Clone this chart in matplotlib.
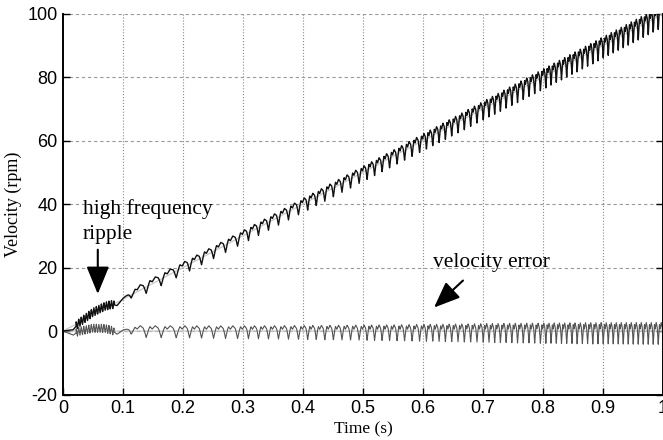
import numpy as np
import matplotlib
matplotlib.use("Agg")
import matplotlib.pyplot as plt

plt.rcParams["axes.unicode_minus"] = False

# reference ramp and zero line (light gray)
ref_t = [0.0, 1.0]
ref_v = [0.0, 100.0]

# slow deviation of the error during start-up
trend_t = [0.0, 0.017, 0.025, 0.05, 0.07, 0.082, 0.09, 0.1, 0.12, 1.0]
trend_e = [0.0, -1.3, -0.2, 0.9, 0.8, 0.2, -1.0, 0.3, 0.2, -0.3]

# high frequency ripple window at start
hf_start, hf_end = 0.022, 0.085
hf_cycles = 15
hf_amp = 1.3

# ripple after 0.1 s: dips per 0.1 s segment and amplitudes
seg_start = [0.1, 0.2, 0.3, 0.4, 0.5, 0.6, 0.7, 0.8, 0.9]
seg_cycles = [4.0, 5.0, 6.0, 7.0, 8.0, 9.5, 10.5, 11.5, 12.0]
seg_up = [1.5, 1.5, 1.6, 1.8, 2.0, 2.3, 2.6, 2.8, 3.0]
seg_down = [2.2, 2.4, 2.6, 2.8, 3.0, 3.3, 3.6, 3.8, 4.0]

# one ripple period: rise, hump, small dip, hump, sharp dip
shape_p = [0.0, 0.25, 0.4, 0.6, 0.8, 1.0]
shape_v = [-1.0, 0.8, 0.3, 1.0, 0.5, -1.0]

t = np.linspace(0, 1, 12000)
dt = t[1] - t[0]
ref = np.interp(t, ref_t, ref_v)

err = np.interp(t, trend_t, trend_e)

# fast ripple
hf_mask = (t >= hf_start) & (t <= hf_end)
hf_phase = (t - hf_start) / (hf_end - hf_start) * hf_cycles
tri = 2 * np.abs(2 * (hf_phase % 1) - 1) - 1
err += np.where(hf_mask, hf_amp * tri, 0.0)

# slower ripple
idx = np.clip(np.searchsorted(seg_start, t, side="right") - 1, 0, len(seg_start) - 1)
freq = np.where(t >= 0.1, np.array(seg_cycles)[idx] * 10, 0.0)
phase = np.cumsum(freq) * dt + 0.45
shape = np.interp(phase % 1, shape_p, shape_v)
up = np.interp(t, [s + 0.05 for s in seg_start], seg_up)
down = np.interp(t, [s + 0.05 for s in seg_start], seg_down)
ripple = np.where(shape > 0, shape * up, shape * down)
ramp_in = np.clip((t - 0.1) / 0.025, 0, 1)
err += ripple * ramp_in

vel = ref + err

fig = plt.figure(figsize=(6.63, 4.40), dpi=100)
ax = fig.add_axes([0.095, 0.1034, 0.905, 0.8656])

ax.plot(t, ref, color="#c8c8c8", lw=0.9)
ax.plot(t, np.zeros_like(t), color="#c8c8c8", lw=0.9)
ax.plot(t, err, color="#555555", lw=0.8)
ax.plot(t, vel, color="#111111", lw=1.0)

ax.set_xlim(0, 1)
ax.set_ylim(-20, 100)
ax.set_xticks(np.arange(0, 1.01, 0.1))
ax.set_xticklabels(["0", "0.1", "0.2", "0.3", "0.4", "0.5", "0.6", "0.7", "0.8", "0.9", "1"])
ax.set_yticks(range(-20, 101, 20))

for lab in ax.get_xticklabels() + ax.get_yticklabels():
    lab.set_family("Liberation Sans")
    lab.set_fontsize(13)

ax.tick_params(direction="in", length=5, width=1, right=True, top=False, pad=4)
ax.spines["top"].set_visible(False)
ax.spines["left"].set_linewidth(1.4)
ax.spines["bottom"].set_linewidth(1.4)
ax.spines["right"].set_linewidth(1.4)

for x in np.arange(0.1, 1.0, 0.1):
    ax.axvline(x, color="#8a8a8a", lw=0.8, ls=":", zorder=0)
for y in range(-20, 101, 20):
    if y != -20:
        ax.axhline(y, color="#9a9a9a", lw=0.8, ls=(0, (3, 2.5)), zorder=0)

serif = "Liberation Serif"
ax.set_xlabel("Time (s)", family=serif, fontsize=12.5, labelpad=3)
ax.set_ylabel("Velocity (rpm)", family=serif, fontsize=13, labelpad=4)

ax.text(0.033, 34.5, "high frequency\nripple", family=serif, fontsize=15.5,
        ha="left", va="center", linespacing=1.4)
ax.annotate("", xy=(0.058, 10.8), xytext=(0.058, 26.5),
            arrowprops=dict(arrowstyle="-|>,head_length=1.7,head_width=0.7",
                            color="black", lw=1.5))

ax.text(0.617, 21.7, "velocity error", family=serif, fontsize=15.5,
        ha="left", va="center")
ax.annotate("", xy=(0.615, 6.8), xytext=(0.67, 16.5),
            arrowprops=dict(arrowstyle="-|>,head_length=1.6,head_width=0.65",
                            color="black", lw=1.5))

fig.savefig("out.png", dpi=100)
